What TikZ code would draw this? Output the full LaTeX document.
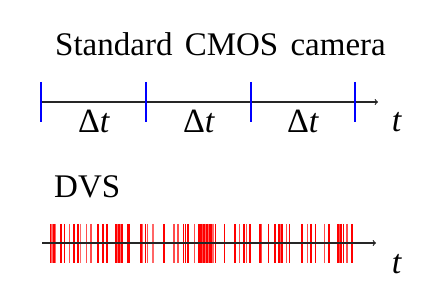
\documentclass[tikz,border=0pt]{standalone}
\usepackage{fontspec}
\setmainfont{Liberation Serif}
\begin{document}
\begin{tikzpicture}[x=1pt,y=-1pt,
  lbl/.style={inner sep=0pt,anchor=base west,font=\fontsize{33}{38}\selectfont},
  mlbl/.style={inner sep=0pt,anchor=base,font=\fontsize{34}{38}\selectfont},
  axis/.style={line width=1.2pt,black!85,-to},
  tick/.style={line width=1.2pt,blue},
  ev/.style={line width=1.4pt,red}]
\useasboundingbox (0,0) rectangle (444,296);
\node[lbl] (title) at (55,56) {Standard\hspace{4pt} CMOS\hspace{4pt} camera};
\node[lbl] (dvs) at (54,198) {DVS};
% top axis
\coordinate (a0) at (41,102);
\coordinate (a1) at (378,102);
\draw[axis] (a0) -- (a1);
\foreach \x [count=\i] in {41,146,251,355}{
  \coordinate (tk\i t) at (\x,82);
  \coordinate (tk\i b) at (\x,122);
  \draw[tick] (tk\i t) -- (tk\i b);
}
\node[mlbl] (d1) at (94,133) {Δ\textit{t}};
\node[mlbl] (d2) at (199,133) {Δ\textit{t}};
\node[mlbl] (d3) at (303,133) {Δ\textit{t}};
\node[mlbl] (t1) at (397,132) {\textit{t}};
% bottom
\foreach \x/\o in {50.5/1,52/0.6,54/1,55.5/0.6,61/1,64.5/1,69.5/0.7,74/1,78/1,80.5/0.6,86.5/0.7,91/0.7,98/1,103/1,107/1,116/1,117.5/0.6,119/1,120.5/0.6,122/1,128/1,129.5/1,141/1,142.5/0.6,145.5/1,147.5/0.7,153/0.6,164/1,174/0.7,178/0.7,183.5/1,185.5/1,188/1,194.5/0.7,199/1,201/1,202.5/0.7,204/1,205.5/0.6,207/1,208.5/0.6,210/1,211.5/1,213/0.6,215.5/1,224.5/1,235/1,239.5/0.7,244/1,246.5/0.7,250/1,260/1,261.5/0.7,268.5/1,275/1,279/1,280.5/0.6,282/1,286.5/0.7,289.5/1,302/1,307.5/0.7,311/1,315.5/1,324.5/0.7,329/1,338/1,339.5/0.7,341/1,343.5/1,347/0.7,352/1}{
  \draw[ev,opacity=\o] (\x,224) -- (\x,263);
}
\coordinate (b0) at (42,243);
\coordinate (b1) at (376,243);
\draw[axis] (b0) -- (b1);
\node[mlbl] (t2) at (397,273) {\textit{t}};
\end{tikzpicture}
\end{document}
